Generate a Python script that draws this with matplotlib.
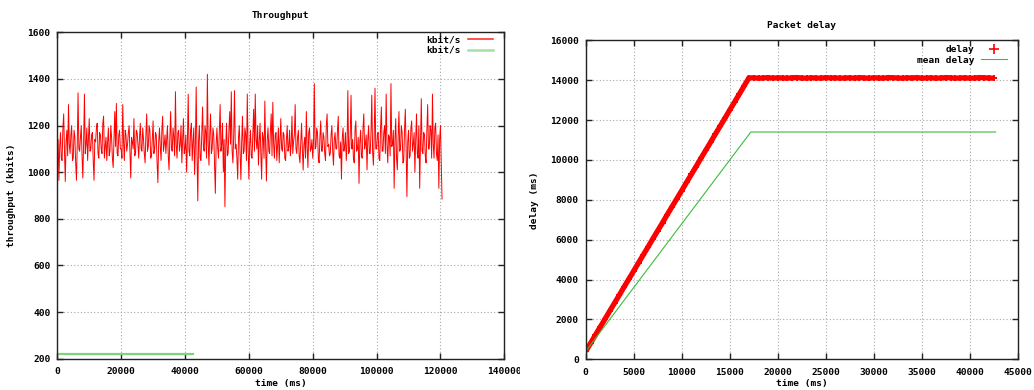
import numpy as np
import matplotlib
matplotlib.use("Agg")
import matplotlib.pyplot as plt
from matplotlib.transforms import Bbox, TransformedBbox

# ---------------- data ----------------
# Throughput (kbit/s), one sample every 250 ms
THR_STEP_MS = 250
throughput = [
    1100, 1140, 965, 1110, 1170, 1060, 1050, 1190, 1250, 1090, 960, 1130, 1180, 1070, 1290, 1120, 1080, 1160, 1200, 1050,
    1060, 1180, 1150, 1040, 965, 1120, 1340, 1100, 1090, 1150, 1200, 1070, 975, 1130, 1335, 1080, 1120, 1190, 1050, 1140,
    1230, 1090, 1100, 1160, 1170, 1050, 965, 1140, 1130, 1190, 1210, 1080, 1060, 1170, 1160, 1100, 1080, 1210, 1240, 1060,
    1110, 1150, 1050, 1130, 1190, 1070, 1090, 1200, 1150, 1060, 1020, 1140, 1260, 1110, 1295, 1080, 1070, 1160, 1180, 1100,
    1100, 1060, 1290, 1130, 1050, 1180, 1160, 1090, 1120, 1170, 1200, 1080, 975, 1150, 1130, 1100, 1230, 1070, 1080, 1180,
    1170, 1120, 1060, 1150, 1210, 1100, 1090, 1190, 1140, 1080, 1040, 1160, 1250, 1090, 1110, 1200, 1180, 1060, 1070, 1140,
    1220, 1080, 1100, 1170, 1160, 1040, 955, 1130, 1190, 1110, 1050, 1180, 1240, 1090, 1120, 1160, 1080, 1140, 1200, 1070,
    1010, 1150, 1260, 1100, 1090, 1190, 1150, 1070, 1345, 1120, 1060, 1170, 1180, 1090, 1120, 1200, 1040, 1140, 1230, 1080,
    1100, 1160, 1000, 1130, 1335, 1090, 1070, 1180, 1210, 1050, 1130, 1190, 990, 1120, 1365, 1080, 877, 1140, 1200, 1060,
    1050, 1170, 1280, 1110, 1090, 1200, 1170, 1060, 1420, 1130, 1030, 1160, 1250, 1080, 1100, 1190, 1160, 1040, 909, 1120,
    1190, 1100, 1060, 1170, 1290, 1090, 1120, 1210, 1000, 1140, 852, 1110, 1210, 1070, 1080, 1180, 1260, 1120, 1345, 1090,
    1040, 1160, 1350, 1100, 1120, 1060, 970, 1150, 1200, 1090, 968, 1130, 1240, 1080, 1090, 1190, 1160, 1050, 1335, 1110,
    971, 1120, 1180, 1070, 1060, 1160, 1270, 1090, 1335, 1140, 1100, 1200, 1030, 1130, 1210, 1080, 970, 1170, 1150, 1060,
    1305, 1110, 962, 1140, 1190, 1090, 1080, 1180, 1250, 1070, 1300, 1120, 1060, 1160, 1170, 1050, 1120, 1190, 1040, 1130,
    1230, 1100, 1090, 1170, 1160, 1060, 1050, 1140, 1200, 1090, 1110, 1180, 1070, 1120, 1240, 1080, 1130, 1160, 1290, 1100,
    1080, 1150, 1180, 1070, 1040, 1130, 1210, 1100, 1009, 1120, 1150, 1060, 1260, 1110, 1020, 1170, 1190, 1090, 1100, 1140,
    1060, 1130, 1380, 1100, 1110, 1190, 1170, 1060, 1040, 1150, 1220, 1090, 1090, 1170, 1150, 1080, 1050, 1200, 1250, 1110,
    1120, 1070, 1080, 1160, 1200, 1090, 1030, 1140, 1170, 1100, 1100, 1180, 1240, 1070, 1060, 1130, 970, 1150, 1190, 1090,
    1110, 1170, 1050, 1120, 1350, 1080, 1090, 1160, 1330, 1100, 1140, 1060, 1040, 1180, 1220, 1090, 1100, 1150, 952, 1130,
    1180, 1070, 1060, 1190, 1250, 1100, 1120, 1160, 1010, 1140, 1200, 1080, 1080, 1170, 1330, 1090, 1030, 1150, 1360, 1100,
    1100, 1160, 1170, 1060, 1050, 1190, 1280, 1090, 1090, 1170, 1200, 1080, 1335, 1120, 1040, 1160, 1150, 1070, 1380, 1110,
    1120, 1180, 931, 1140, 1230, 1060, 1010, 1150, 1260, 1090, 1100, 1200, 1170, 1040, 1050, 1180, 1270, 1100, 895, 1130,
    1180, 1060, 1070, 1190, 1220, 1090, 1120, 1170, 1000, 1140, 1250, 1080, 1060, 1200, 931, 1130, 1315, 1090, 1080, 1170,
    1160, 1070, 1040, 1180, 1290, 1100, 1100, 1200, 1180, 1060, 1335, 1120, 1060, 1190, 1210, 1080, 1050, 1160, 931, 1140,
    1200, 1050, 885,
]
thr_time = np.arange(len(throughput)) * THR_STEP_MS

# second throughput series (green)
thr2_time = [0, 2000, 4000, 6000, 8000, 10000, 12000, 14000, 16000, 18000, 20000,
             22000, 24000, 26000, 28000, 30000, 32000, 34000, 36000, 38000, 40000, 42500]
thr2 = [220, 220, 220, 220, 220, 220, 220, 220, 220, 220, 220,
        220, 220, 220, 220, 220, 220, 220, 220, 220, 220, 220]

# Packet delay (ms), one sample every 500 ms
DELAY_STEP_MS = 500
delay = [
    400, 800, 1210, 1610, 2010, 2420, 2820, 3220, 3630, 4030,
    4430, 4840, 5240, 5640, 6050, 6450, 6850, 7260, 7660, 8060,
    8460, 8870, 9270, 9670, 10080, 10480, 10880, 11290, 11690, 12090,
    12500, 12900, 13300, 13710, 14110, 14120, 14100, 14110, 14130, 14100,
    14120, 14110, 14100, 14120, 14130, 14110, 14100, 14120, 14110, 14100,
    14130, 14110, 14120, 14100, 14110, 14120, 14100, 14130, 14110, 14100,
    14120, 14110, 14100, 14130, 14120, 14110, 14100, 14120, 14110, 14130,
    14100, 14110, 14120, 14100, 14110, 14130, 14120, 14100, 14110, 14120,
    14100, 14110, 14130, 14120, 14110, 14100,
]
delay_time = np.arange(len(delay)) * DELAY_STEP_MS

mean_delay_time = [0, 17200, 42700]
mean_delay = [400, 11400, 11400]

# ---------------- style ----------------
FONT = dict(family="DejaVu Sans Mono", weight="bold", size=6.8)
RED = "#ff0000"
GREEN_THR = "#7ed47e"
GREEN_MEAN = "#3cbc3c"

fig = plt.figure(figsize=(10.34, 3.90), dpi=100)
W, H = 1034, 390


def make_axes(l, r, t, b):
    return fig.add_axes([l / W, 1 - b / H, (r - l) / W, (b - t) / H])


def style(ax):
    for s in ax.spines.values():
        s.set_linewidth(1.0)
        s.set_color("#222222")
    ax.tick_params(direction="in", top=True, right=True, length=4, width=1,
                   colors="#222222", labelcolor="black")
    ax.tick_params(axis="y", pad=5)
    ax.tick_params(axis="x", pad=6)
    ax.grid(True, linestyle=(0, (1, 2)), color="#a8a8a8", linewidth=0.8)
    ax.set_axisbelow(True)
    for lab in ax.get_xticklabels() + ax.get_yticklabels():
        lab.set_fontfamily(FONT["family"])
        lab.set_fontweight(FONT["weight"])
        lab.set_fontsize(FONT["size"])


LEG = dict(loc="upper right", frameon=False, markerfirst=False, prop=FONT,
           handlelength=2.7, handletextpad=0.75, labelspacing=0.15,
           borderaxespad=0.0, borderpad=0.0)

# ---- left: Throughput ----
ax1 = make_axes(57.3, 504.3, 32.3, 358.7)
ax1.plot(thr_time, throughput, color=RED, linewidth=0.7, label="kbit/s")
ax1.plot(thr2_time, thr2, color=GREEN_THR, linewidth=1.6, label="kbit/s")
ax1.set_xlim(0, 140000)
ax1.set_ylim(200, 1600)
ax1.set_xticks(np.arange(0, 140001, 20000))
ax1.set_yticks(np.arange(200, 1601, 200))
style(ax1)
ax1.set_title("Throughput", fontdict=FONT, pad=10)
ax1.set_xlabel("time (ms)", fontdict=FONT, labelpad=2)
ax1.set_ylabel("throughput (kbits)", fontdict=FONT, labelpad=8)
leg1 = ax1.legend(bbox_to_anchor=(0.975, 0.99), **LEG)
leg1.legend_handles[0].set_linewidth(1.1)
leg1.legend_handles[0].set_color("#ff2020")
leg1.legend_handles[1].set_color("#a6e0a6")
leg1.legend_handles[1].set_linewidth(1.8)

# ---- right: Packet delay ----
ax2 = make_axes(585.7, 1017.7, 40.3, 359.3)
ax2.plot(delay_time, delay, color=RED, linewidth=3.8, solid_capstyle="butt",
         solid_joinstyle="miter")
ax2.plot(delay_time, delay, linestyle="none", marker="+", markersize=5,
         markeredgewidth=1.4, color=RED, label="delay")
ax2.plot(mean_delay_time, mean_delay, color=GREEN_MEAN, linewidth=0.8,
         label="mean delay")
ax2.set_xlim(0, 45000)
ax2.set_ylim(0, 16000)
ax2.set_xticks(np.arange(0, 45001, 5000))
ax2.set_yticks(np.arange(0, 16001, 2000))
style(ax2)
ax2.set_title("Packet delay", fontdict=FONT, pad=8.5)
ax2.set_xlabel("time (ms)", fontdict=FONT, labelpad=2)
ax2.set_ylabel("delay (ms)", fontdict=FONT, labelpad=8)
leg2 = ax2.legend(bbox_to_anchor=(0.9745, 0.985), **LEG)
leg2.legend_handles[0].set_markersize(7)
leg2.legend_handles[0].set_markeredgewidth(1.2)

# clip the last left tick label at the panel boundary (as in the original)
clip = TransformedBbox(Bbox([[0, 0], [520 / W, 1]]), fig.transFigure)
for lab in ax1.get_xticklabels():
    lab.set_clip_box(clip)
    lab.set_clip_on(True)

fig.savefig("out.png", dpi=100)
